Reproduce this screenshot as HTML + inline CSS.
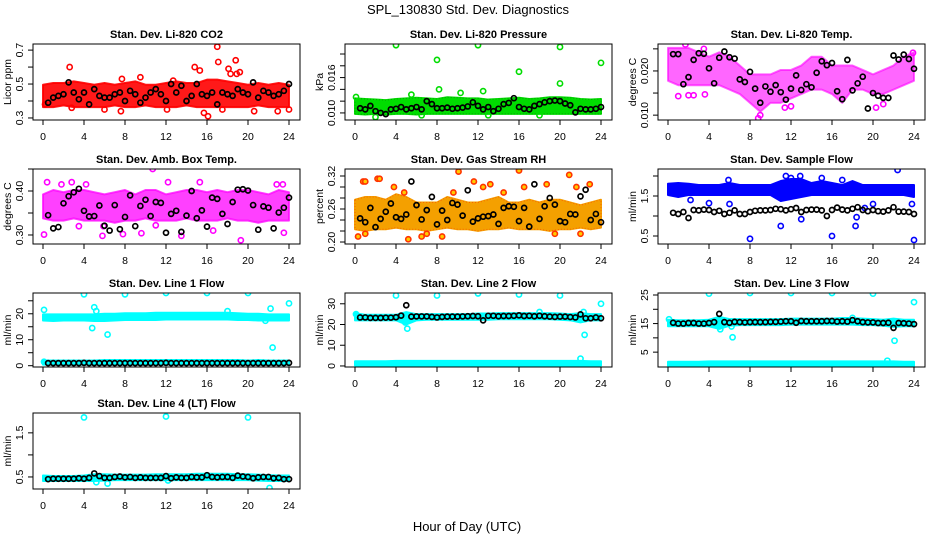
<!DOCTYPE html>
<html><head><meta charset="utf-8"><style>
html,body{margin:0;padding:0;background:#fff;}
svg{display:block;font-family:"Liberation Sans",Arial,sans-serif;}
</style></head><body>
<svg id="chart" width="936" height="540" viewBox="0 0 936 540">
<text x="468" y="14" text-anchor="middle" font-size="13">SPL_130830  Std. Dev. Diagnostics</text>
<text x="467" y="531" text-anchor="middle" font-size="13">Hour of Day (UTC)</text>
</svg>
<script>
// ---- data (hours axis 0..24; band arrays at 1h steps, black series every 0.5h from 0.5h) ----
const xTicks = [0,4,8,12,16,20,24];
const titles = ["Stan. Dev. Li-820 CO2","Stan. Dev. Li-820 Pressure","Stan. Dev. Li-820 Temp.","Stan. Dev. Amb. Box Temp.","Stan. Dev. Gas Stream RH","Stan. Dev. Sample Flow","Stan. Dev. Line 1 Flow","Stan. Dev. Line 2 Flow","Stan. Dev. Line 3 Flow","Stan. Dev. Line 4 (LT) Flow"];
const yLabels = ["Licor ppm","kPa","degrees C","degrees C","percent","ml/min","ml/min","ml/min","ml/min","ml/min"];

const co2Lo = [0.37,0.37,0.38,0.37,0.37,0.37,0.37,0.38,0.37,0.37,0.38,0.37,0.37,0.37,0.38,0.37,0.37,0.37,0.37,0.37,0.37,0.38,0.37,0.37,0.37];
const co2Hi = [0.49,0.50,0.50,0.51,0.50,0.49,0.50,0.49,0.50,0.51,0.49,0.49,0.50,0.51,0.50,0.50,0.52,0.52,0.51,0.50,0.49,0.50,0.49,0.50,0.49];
const co2Out = [[2.6,0.6],[15.3,0.58],[14.8,0.60],[17,0.72],[17.1,0.63],[18.8,0.64],[18.1,0.59],[18.3,0.56],[18.9,0.56],[19.2,0.57],[15.7,0.33],[16.1,0.31],[7.6,0.34],[20.6,0.34],[22.9,0.34],[24,0.35],[6,0.35],[17.5,0.35],[9.5,0.54],[12.7,0.52],[0.2,0.38],[2.8,0.36],[7.7,0.53],[12.1,0.35]];
const co2Blk = [0.39,0.42,0.43,0.44,0.51,0.45,0.41,0.45,0.38,0.47,0.43,0.42,0.42,0.44,0.45,0.40,0.46,0.44,0.39,0.42,0.45,0.47,0.44,0.40,0.50,0.45,0.49,0.40,0.43,0.50,0.44,0.43,0.45,0.38,0.45,0.44,0.43,0.47,0.45,0.44,0.51,0.42,0.46,0.45,0.43,0.44,0.46,0.50];

const kpaLo = [0.0100,0.0099,0.0100,0.0099,0.0100,0.0100,0.0099,0.0100,0.0100,0.0100,0.0100,0.0100,0.0100,0.0100,0.0100,0.0100,0.0100,0.0100,0.0100,0.0100,0.0100,0.0100,0.0100,0.0100,0.0100];
const kpaHi = [0.0123,0.0122,0.0121,0.0120,0.0122,0.0123,0.0124,0.0123,0.0122,0.0125,0.0124,0.0123,0.0123,0.0121,0.0122,0.0123,0.0124,0.0122,0.0123,0.0125,0.0125,0.0124,0.0122,0.0121,0.0122];
const kpaOut = [[4,0.0215],[12,0.0215],[20,0.0212],[8,0.0190],[24,0.0185],[16,0.0170],[20,0.0150],[8.2,0.0140],[12.5,0.0137],[0.1,0.0127],[2,0.0093],[6.5,0.0096],[13,0.0096],[18,0.0096],[10.3,0.0134],[5.5,0.0131]];
const kpaBlk = [0.0108,0.0106,0.0112,0.0103,0.0100,0.0098,0.0106,0.0107,0.0110,0.0106,0.0108,0.0110,0.0106,0.0120,0.0115,0.0108,0.0108,0.0109,0.0107,0.0108,0.0109,0.0111,0.0118,0.0112,0.0106,0.0110,0.0103,0.0107,0.0115,0.0117,0.0125,0.0110,0.0107,0.0106,0.0112,0.0115,0.0118,0.0120,0.0121,0.0120,0.0116,0.0113,0.0101,0.0107,0.0106,0.0106,0.0107,0.0110];

const tmpLo = [0.018,0.017,0.017,0.017,0.017,0.017,0.016,0.015,0.013,0.011,0.013,0.013,0.014,0.015,0.016,0.016,0.015,0.013,0.016,0.016,0.015,0.015,0.016,0.017,0.018];
const tmpHi = [0.025,0.025,0.025,0.024,0.023,0.024,0.023,0.021,0.019,0.019,0.019,0.020,0.020,0.021,0.023,0.023,0.021,0.021,0.021,0.020,0.019,0.020,0.021,0.023,0.024];
const tmpOut = [[1,0.0143],[2,0.0145],[2.5,0.0145],[3.6,0.0147],[8.8,0.0093],[9,0.0100],[11.4,0.0117],[12,0.0120],[20.3,0.0117],[21,0.0125],[3.5,0.0250],[23.9,0.0241],[1.7,0.0260]];
const tmpBlk = [0.0238,0.0238,0.0170,0.0186,0.0225,0.0240,0.0239,0.0206,0.0172,0.0230,0.0244,0.0231,0.0228,0.0181,0.0175,0.0198,0.0160,0.0128,0.0165,0.0153,0.0168,0.0152,0.0135,0.0160,0.0190,0.0157,0.0170,0.0163,0.0196,0.0222,0.0213,0.0218,0.0154,0.0136,0.0225,0.0156,0.0172,0.0187,0.0115,0.0150,0.0144,0.0139,0.0139,0.0235,0.0226,0.0237,0.0227,0.0205];

const ambLo = [0.340,0.335,0.335,0.340,0.335,0.335,0.335,0.330,0.335,0.335,0.340,0.335,0.335,0.335,0.340,0.335,0.335,0.335,0.340,0.335,0.335,0.330,0.335,0.335,0.335];
const ambHi = [0.390,0.400,0.395,0.400,0.400,0.395,0.390,0.395,0.400,0.390,0.400,0.400,0.390,0.395,0.400,0.400,0.395,0.400,0.395,0.400,0.400,0.395,0.390,0.400,0.395];
const ambOut = [[0.4,0.42],[1.8,0.415],[2.8,0.42],[10.7,0.45],[12.2,0.42],[15.3,0.42],[22.8,0.415],[23.4,0.415],[0.1,0.301],[5.8,0.298],[7.8,0.302],[9.6,0.304],[13.5,0.298],[19.3,0.288],[23.5,0.305],[16.6,0.31],[3.5,0.32],[11,0.322],[4.2,0.415],[5.9,0.32]];
const ambBlk = [0.345,0.315,0.318,0.372,0.388,0.397,0.405,0.355,0.342,0.343,0.367,0.321,0.310,0.368,0.313,0.341,0.390,0.320,0.366,0.380,0.343,0.375,0.373,0.305,0.348,0.355,0.307,0.344,0.400,0.338,0.356,0.319,0.385,0.382,0.348,0.325,0.375,0.403,0.404,0.401,0.368,0.312,0.365,0.362,0.315,0.351,0.362,0.385];

const rhLo = [0.225,0.222,0.225,0.225,0.228,0.225,0.225,0.222,0.225,0.228,0.225,0.225,0.222,0.225,0.225,0.228,0.225,0.225,0.225,0.222,0.225,0.225,0.228,0.225,0.228];
const rhHi = [0.275,0.280,0.280,0.275,0.285,0.280,0.270,0.270,0.270,0.280,0.275,0.270,0.270,0.275,0.280,0.270,0.270,0.275,0.270,0.275,0.275,0.270,0.265,0.270,0.275];
const rhOut = [[0.3,0.21],[0.8,0.31],[1,0.31],[2.2,0.315],[2.4,0.315],[3.8,0.30],[5.2,0.205],[6.5,0.21],[8.5,0.21],[10.1,0.328],[11.6,0.31],[12.5,0.3],[13.2,0.305],[16,0.33],[16.5,0.3],[18.7,0.305],[20.9,0.322],[21.6,0.3],[22.9,0.305],[22,0.215],[1,0.215],[7,0.215],[4.8,0.29],[14.5,0.29],[9.6,0.29],[19.5,0.215]];
const rhBlk = [0.243,0.236,0.262,0.227,0.242,0.255,0.270,0.245,0.242,0.250,0.310,0.267,0.241,0.258,0.282,0.232,0.257,0.240,0.271,0.268,0.248,0.294,0.237,0.243,0.246,0.247,0.250,0.233,0.262,0.265,0.264,0.238,0.262,0.228,0.305,0.242,0.265,0.280,0.268,0.238,0.236,0.251,0.250,0.283,0.295,0.240,0.251,0.236];

const sfLo = [1.55,1.50,1.55,1.55,1.55,1.55,1.55,1.55,1.55,1.55,1.55,1.40,1.45,1.50,1.55,1.55,1.55,1.55,1.55,1.55,1.55,1.55,1.55,1.55,1.50];
const sfHi = [1.78,1.80,1.78,1.75,1.75,1.75,1.80,1.75,1.75,1.75,1.75,1.85,1.90,1.90,1.80,1.85,1.80,1.75,1.85,1.75,1.75,1.75,1.75,1.75,1.75];
const sfOut = [[2.2,1.4],[4,1.32],[6,1.3],[8,0.43],[11,0.75],[13,0.92],[16,0.5],[18.3,0.75],[18.4,0.97],[19.2,1.2],[20,1.3],[22.4,2.15],[24,0.4],[15,1.95],[12,1.95],[17,1.9],[5.9,1.9],[11.5,2.0],[12.9,2.0],[23.8,1.3]];
const sfBlk = [1.08,1.05,1.10,0.95,1.15,1.14,1.16,1.15,1.10,1.13,1.05,1.08,1.14,1.05,1.05,1.10,1.13,1.14,1.14,1.15,1.18,1.17,1.14,1.17,1.20,1.10,1.15,1.16,1.16,1.14,1.00,1.15,1.21,1.16,1.14,1.18,1.22,1.15,1.12,1.15,1.12,1.11,1.14,1.22,1.11,1.11,1.10,1.05];

const l1Lo = [17.8,17.6,17.8,17.8,17.8,17.6,17.6,17.8,18.0,18.0,18.0,18.0,18.2,18.2,18.2,18.2,18.2,18.2,18.2,18.0,18.0,17.8,17.8,17.8,17.8];
const l1Hi = [19.4,19.4,19.4,19.4,19.4,19.4,19.6,19.6,19.8,19.8,19.8,20.0,20.0,20.0,20.0,20.0,20.0,20.0,20.0,19.8,19.6,19.6,19.4,19.4,19.4];
const l1LoB = [0.8,0.8,0.8,0.8,0.8,0.8,0.8,0.8,0.8,0.8,0.8,0.8,0.8,0.8,0.8,0.8,0.8,0.8,0.8,0.8,0.8,0.8,0.8,0.8,0.8];
const l1HiB = [1.6,1.6,1.6,1.6,1.6,1.6,1.8,1.8,1.8,1.8,1.8,1.8,1.8,1.8,1.8,1.8,1.8,1.8,1.8,1.8,1.6,1.8,1.6,1.6,1.6];
const l1Out = [[0.1,21.5],[0.1,1.5],[4,27.5],[8,27.5],[12,28],[16,28],[20,28],[24,24],[5,22.5],[5.2,21],[4.8,14.5],[6.3,12],[22.2,22],[22.4,7],[21.7,17.3],[18,21]];
const l1Blk = [1.0,1.0,1.0,1.0,1.0,1.0,1.0,1.1,1.0,1.0,1.0,1.0,1.0,1.0,1.0,1.0,1.0,1.0,1.0,1.0,1.0,1.0,1.0,1.1,1.0,1.0,1.0,1.0,1.0,1.0,1.0,1.0,1.0,1.0,1.0,1.0,1.0,1.0,1.0,1.0,1.0,1.0,1.0,1.0,1.0,1.0,1.0,1.1];

const l2Lo = [22.5,22.5,22.5,22.5,22.5,20.5,22.5,22.8,22.8,22.8,22.8,22.8,22.8,22.8,23.0,23.0,23.0,23.0,23.0,23.0,22.8,22.5,21.5,22.5,22.5];
const l2Hi = [25.0,24.2,24.2,24.2,24.2,25.5,24.5,24.5,24.5,24.5,24.5,24.5,24.8,24.8,25.0,25.0,25.0,25.0,25.0,25.0,24.8,24.5,25.0,24.5,24.5];
const l2LoB = [0.7,0.7,0.7,0.7,0.7,0.7,0.7,0.7,0.7,0.7,0.7,0.7,0.7,0.7,0.7,0.7,0.7,0.7,0.7,0.7,0.7,0.7,0.7,0.7,0.7];
const l2HiB = [1.8,1.8,1.8,1.8,2.0,2.0,2.0,2.0,2.0,2.0,2.0,2.0,2.0,2.0,2.0,2.0,2.0,2.0,2.0,2.0,2.0,2.0,2.0,1.8,1.8];
const l2Out = [[4,34],[8,34],[12,35],[16,34.5],[20,34],[24,30],[5.1,18],[4.9,21],[5.3,24],[22.4,15],[22.3,26],[22,3.5],[18,26],[0.1,25]];
const l2Blk = [23.4,23.4,23.2,23.2,23.2,23.3,23.3,23.5,24.3,29.3,23.8,23.9,23.9,23.9,23.7,23.4,23.7,23.8,23.8,23.8,23.9,24.0,24.1,24.0,22.0,24.2,24.2,24.0,24.1,24.1,24.2,24.4,24.1,24.2,24.0,24.2,24.0,23.8,23.7,23.8,23.8,23.6,23.4,24.9,23.0,23.0,23.4,23.0];

const l3Lo = [14.4,14.4,14.4,14.4,14.4,13.5,14.6,14.8,14.8,14.8,14.8,14.8,15.0,15.0,15.0,15.0,15.0,15.0,15.0,14.8,14.8,14.6,14.2,14.4,14.4];
const l3Hi = [16.0,15.8,15.8,15.8,16.0,17.0,16.2,16.2,16.2,16.2,16.2,16.2,16.4,16.4,16.4,16.4,16.4,16.6,16.6,16.4,16.2,16.0,16.4,16.0,16.0];
const l3LoB = [0.5,0.5,0.5,0.5,0.5,0.5,0.5,0.5,0.5,0.5,0.5,0.5,0.5,0.5,0.5,0.5,0.5,0.5,0.5,0.5,0.5,0.5,0.5,0.5,0.5];
const l3HiB = [1.3,1.3,1.3,1.3,1.4,1.4,1.4,1.4,1.4,1.4,1.4,1.4,1.4,1.4,1.4,1.4,1.4,1.4,1.4,1.4,1.4,1.4,1.4,1.3,1.3];
const l3Out = [[4,25.5],[8,25.7],[12,25.7],[16,25.7],[20,25.5],[24,22.5],[0.1,16.5],[5.1,13],[6.3,10.2],[6.2,14],[22.1,9],[21.4,2],[18,17]];
const l3Blk = [15.3,15.0,15.0,15.2,15.2,15.0,15.0,15.2,15.5,18.4,15.5,15.3,15.6,15.5,15.4,15.5,15.5,15.5,15.5,15.6,15.6,15.7,15.8,15.8,15.3,15.9,15.8,15.8,15.8,15.8,15.9,15.9,15.7,15.8,15.7,16.2,15.8,15.5,15.4,15.4,15.2,15.2,15.3,13.5,15.2,15.1,15.0,14.8];

const l4Lo = [0.43,0.43,0.43,0.43,0.43,0.43,0.44,0.45,0.45,0.45,0.45,0.45,0.45,0.45,0.45,0.45,0.45,0.45,0.45,0.45,0.45,0.44,0.43,0.43,0.43];
const l4Hi = [0.51,0.50,0.50,0.50,0.51,0.54,0.54,0.53,0.53,0.53,0.53,0.54,0.54,0.54,0.54,0.55,0.55,0.55,0.55,0.54,0.54,0.53,0.52,0.51,0.51];
const l4Out = [[4,1.85],[12,1.87],[20,1.85],[5.2,0.38],[6.3,0.35],[22.1,0.25],[12.2,0.42]];
const l4Blk = [0.45,0.46,0.46,0.46,0.46,0.46,0.47,0.46,0.48,0.58,0.52,0.48,0.48,0.50,0.51,0.49,0.50,0.48,0.49,0.48,0.48,0.48,0.48,0.52,0.47,0.49,0.48,0.48,0.50,0.49,0.49,0.54,0.50,0.49,0.50,0.50,0.48,0.53,0.51,0.50,0.47,0.49,0.50,0.50,0.47,0.48,0.45,0.45];

const yTicks = [[0.3,0.4,0.5,0.6,0.7],[0.010,0.012,0.014,0.016,0.018,0.020],[0.010,0.015,0.020,0.025],[0.30,0.35,0.40,0.45],[0.20,0.22,0.24,0.26,0.28,0.30,0.32],[0.5,1.0,1.5,2.0],[0,5,10,15,20,25],[0,10,20,30],[5,10,15,20,25],[0.5,1.0,1.5]];
const yTickLabels = [["0.3","","0.5","","0.7"],["0.010","","","0.016","",""],["0.010","","0.020",""],["0.30","","0.40",""],["0.20","","","0.26","","","0.32"],["0.5","","1.5",""],["0","","10","","20",""],["0","10","20","30"],["5","","15","","25"],["0.5","","1.5"]];

// ---- layout ----
const colL=[33,345,658], colR=[300,612,925], x0=[43,355,668];
const rowT=[44,169,293,413], rowB=[120,244,367,489];
const XSPAN=246;
const panels=[
 {r:0,c:0,ymin:0.288,ymax:0.736,col:"#ff0000",bands:[[co2Lo,co2Hi]],out:co2Out,blk:co2Blk,alpha:0.9},
 {r:0,c:1,ymin:0.0088,ymax:0.0217,col:"#00dd00",bands:[[kpaLo,kpaHi]],out:kpaOut,blk:kpaBlk,tex:"#006600"},
 {r:0,c:2,ymin:0.0089,ymax:0.0261,col:"#ff00ff",bands:[[tmpLo,tmpHi]],out:tmpOut,blk:tmpBlk,alpha:0.6},
 {r:1,c:0,ymin:0.2795,ymax:0.45,col:"#ff00ff",bands:[[ambLo,ambHi]],out:ambOut,blk:ambBlk,alpha:0.75},
 {r:1,c:1,ymin:0.1964,ymax:0.3327,col:"#f4a000",bands:[[rhLo,rhHi]],out:rhOut,blk:rhBlk,outCol:"#ffcc00",tex:"#ff2200"},
 {r:1,c:2,ymin:0.3,ymax:2.175,col:"#0000ff",bands:[[sfLo,sfHi]],out:sfOut,blk:sfBlk},
 {r:2,c:0,ymin:-0.5,ymax:28,col:"#00ffff",bands:[[l1Lo,l1Hi],[l1LoB,l1HiB]],out:l1Out,blk:l1Blk},
 {r:2,c:1,ymin:-0.5,ymax:35.2,col:"#00ffff",bands:[[l2Lo,l2Hi],[l2LoB,l2HiB]],out:l2Out,blk:l2Blk},
 {r:2,c:2,ymin:-0.2,ymax:25.7,col:"#00ffff",bands:[[l3Lo,l3Hi],[l3LoB,l3HiB]],out:l3Out,blk:l3Blk},
 {r:3,c:0,ymin:0.227,ymax:1.95,col:"#00ffff",bands:[[l4Lo,l4Hi]],out:l4Out,blk:l4Blk}
];
const NS="http://www.w3.org/2000/svg";
const svg=document.getElementById('chart');
function mk(tag,attrs,parent){const e=document.createElementNS(NS,tag);for(const k in attrs)e.setAttribute(k,attrs[k]);(parent||svg).appendChild(e);return e;}

panels.forEach((p,pi)=>{
 const L=colL[p.c],R=colR[p.c],T=rowT[p.r],B=rowB[p.r];
 const xs=h=>x0[p.c]+h/24*XSPAN;
 const ys=v=>B-(v-p.ymin)/(p.ymax-p.ymin)*(B-T);
 const g=mk('g',{});
 
 
 const clip=mk('clipPath',{id:'cl'+pi},g); mk('rect',{x:L,y:T,width:R-L,height:B-T},clip);
 const data=mk('g',{'clip-path':'url(#cl'+pi+')'},g);
 p.bands.forEach((bd,bi)=>{
  const lo=bd[0],hi=bd[1];
  let pts=[];
  hi.forEach((v,i)=>pts.push(xs(i)+','+(ys(v)-1)));
  for(let i=lo.length-1;i>=0;i--)pts.push(xs(i)+','+(ys(lo[i])+1));
  const poly=mk('polygon',{points:pts.join(' '),fill:p.col,stroke:p.col,'stroke-width':2,'stroke-linejoin':'round','fill-opacity':p.alpha||1,'stroke-opacity':p.alpha||1},data);
  
  
  if(p.tex){
   const lines=mk('polygon',{points:pts.join(' '),fill:'none',stroke:p.tex,'stroke-width':1,'stroke-dasharray':'1 2','opacity':0.5},data);
   
   
  }
 });
 p.out.forEach(o=>{
  const c=mk('circle',{cx:xs(o[0]),cy:ys(o[1]),r:2.6,fill:'none',stroke:p.col,'stroke-width':1.6},data);
  
  
  if(p.outCol){c.setAttribute('stroke','#ff3300');c.setAttribute('fill',p.outCol);}
 });
 p.blk.forEach((v,i)=>{
  const c=mk('circle',{cx:xs(0.5*(i+1)),cy:ys(v),r:2.5,fill:'none',stroke:'#000','stroke-width':1.7},data);
  
  
 });
 const box=mk('rect',{x:L,y:T,width:R-L,height:B-T,fill:'none',stroke:'#000','stroke-width':1},g);
 
 
 xTicks.forEach(t=>{
  const x=xs(t);
  mk('line',{x1:x,y1:B,x2:x,y2:B+5,stroke:'#000'},g);
  const tx=mk('text',{x:x,y:B+20,'text-anchor':'middle','font-size':10.5},g);
  tx.textContent=t;
  
  
 });
 yTicks[pi].forEach((t,ti)=>{
  const y=ys(t);
  mk('line',{x1:L-5,y1:y,x2:L,y2:y,stroke:'#000'},g);
  const lab=yTickLabels[pi][ti];
  if(lab){
   const tx=mk('text',{x:L-10,y:y,'text-anchor':'middle','font-size':10.5,transform:'rotate(-90 '+(L-10)+' '+y+')'},g);
   tx.textContent=lab;
   
   
  }
 });
 const yl=mk('text',{x:L-22,y:(T+B)/2,'text-anchor':'middle','font-size':10.5,transform:'rotate(-90 '+(L-22)+' '+((T+B)/2)+')'},g);
 yl.textContent=yLabels[pi];
 
 
 const tt=mk('text',{x:(L+R)/2,y:T-6,'text-anchor':'middle','font-size':11,'font-weight':'bold'},g);
 tt.textContent=titles[pi];
 
 
});
</script>
</body></html>
